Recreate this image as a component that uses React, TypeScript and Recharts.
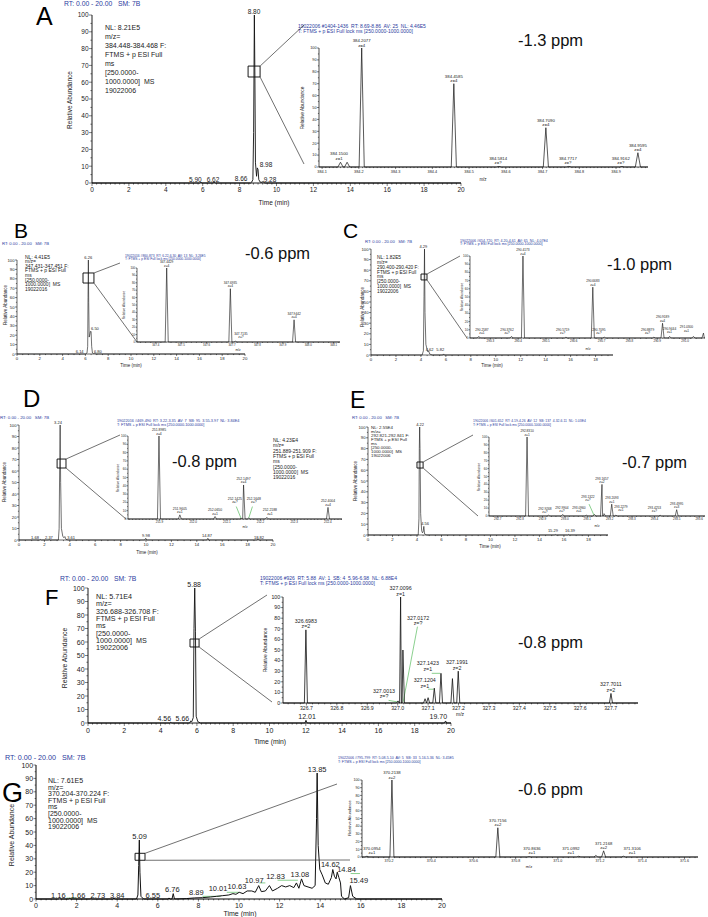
import React from "react";
import { ComposedChart, Line, XAxis, YAxis, ReferenceArea, ReferenceLine } from "recharts";

const FONT = '"Liberation Sans", Arial, Helvetica, sans-serif';
const BLUE = "#2b3b9e";
const GREEN = "#3cb043";
const INK = "#222";

// ---------------- tick labels ----------------
const Y_TICKS = [0, 10, 20, 30, 40, 50, 60, 70, 80, 90, 100];
const T_TICKS_20 = [0, 2, 4, 6, 8, 10, 12, 14, 16, 18, 20];
const T_TICKS_18 = [0, 2, 4, 6, 8, 10, 12, 14, 16, 18];
const MZ_TICKS_A = [384.1, 384.2, 384.3, 384.4, 384.5, 384.6, 384.7, 384.8, 384.9];
const MZ_TICKS_B = [347.4, 347.5, 347.6, 347.7, 347.8, 347.9, 348.0, 348.1];
const MZ_TICKS_C = [290.3, 290.4, 290.5, 290.6, 290.7, 290.8, 290.9, 291.0];
const MZ_TICKS_D = [251.9, 252.0, 252.1, 252.2, 252.3, 252.4];
const MZ_TICKS_E = [292.7, 292.8, 292.9, 293.0, 293.1, 293.2, 293.3, 293.4, 293.5, 293.6];
const MZ_TICKS_F = [326.7, 326.8, 326.9, 327.0, 327.1, 327.2, 327.3, 327.4, 327.5, 327.6, 327.7];
const MZ_TICKS_G = [370.2, 370.4, 370.6, 370.8, 371.0, 371.2, 371.4, 371.6];

// ---------------- chromatograms [time, abundance] ----------------
const CHROM_A: [number, number][] = [[0,0],[5.84,0],[5.9,0.5],[5.96,0],[6.56,0],[6.62,0.4],[6.68,0],[8.6,0],[8.66,0.6],[8.72,2],[8.76,30],[8.8,100],[8.83,62],[8.86,12],[8.92,4],[8.96,9],[9.0,8],[9.04,2],[9.12,0.5],[9.22,0.4],[9.28,1],[9.34,0],[20,0]];
const CHROM_B: [number, number][] = [[0,0],[6.0,0],[6.08,0.5],[6.14,1],[6.2,8],[6.23,60],[6.26,100],[6.29,55],[6.33,18],[6.38,20],[6.44,24],[6.5,24],[6.55,8],[6.62,1],[6.72,0.5],[6.8,1],[6.88,0],[20,0]];
const CHROM_C: [number, number][] = [[0,0],[4.1,0],[4.2,4],[4.25,55],[4.29,100],[4.33,40],[4.4,10],[4.5,5],[4.56,3],[4.62,4],[4.7,1],[4.9,0],[5.76,0],[5.82,1],[5.88,0],[19.4,0]];
const CHROM_D: [number, number][] = [[0,0],[1.6,0],[1.68,0.5],[1.76,0],[2.3,0],[2.37,0.5],[2.44,0],[3.1,0],[3.16,10],[3.2,60],[3.24,100],[3.28,50],[3.34,10],[3.45,3],[3.55,2],[3.61,3],[3.7,0.5],[3.9,0],[9.9,0],[9.98,1.5],[10.06,0],[14.8,0],[14.87,1.5],[14.94,0],[18.75,0],[18.82,1],[18.9,0],[20,0]];
const CHROM_E: [number, number][] = [[0,0],[4.1,0],[4.16,15],[4.19,80],[4.22,100],[4.25,80],[4.3,20],[4.38,4],[4.45,2],[4.5,3],[4.56,8],[4.62,1],[4.8,0],[15.22,0],[15.29,0.5],[15.36,0],[16.32,0],[16.39,0.5],[16.46,0],[19.6,0]];
const CHROM_F: [number, number][] = [[0,0],[4.5,0],[4.56,0.5],[4.62,0],[5.6,0],[5.66,1.5],[5.72,1],[5.8,4],[5.84,70],[5.88,100],[5.92,68],[5.96,5],[6.05,1],[6.2,0],[11.95,0],[12.01,2],[12.07,0],[19.64,0],[19.7,1.5],[19.76,0],[20,0]];
const CHROM_G: [number, number][] = [[0,0],[1.1,0],[1.16,0.8],[1.22,0],[1.6,0],[1.66,0.5],[1.72,0],[2.67,0],[2.73,0.5],[2.79,0],[3.78,0],[3.84,0.5],[3.9,0],[4.95,0],[5.02,3],[5.06,25],[5.09,44],[5.12,20],[5.17,2],[5.3,0],[6.5,0],[6.55,0.8],[6.6,0],[6.7,0],[6.76,4],[6.82,0],[7.4,0.3],[7.8,0.8],[8.2,1],[8.6,1.5],[8.89,2],[9.2,2.5],[9.5,3],[9.7,4],[9.85,3.5],[10.01,5],[10.2,4],[10.4,6],[10.63,6],[10.8,5],[10.97,10],[11.1,5.5],[11.3,6],[11.5,10],[11.65,6],[11.9,8],[12.1,10],[12.3,9],[12.5,10],[12.7,8.5],[12.83,12],[12.95,8],[13.08,15],[13.2,10],[13.4,9],[13.6,8],[13.75,10],[13.82,60],[13.85,94],[13.9,40],[13.98,22],[14.1,18],[14.25,12],[14.4,11],[14.55,16],[14.62,22],[14.7,17],[14.78,15],[14.84,20],[14.92,16],[15.0,12],[15.05,2],[15.2,0],[15.4,1],[15.49,10],[15.6,2],[15.8,0],[20,0]];

// chromatogram peak labels: text, label x (min), label baseline level (%)
type Lab = [string, number, number];
const RT_LABELS_A: Lab[] = [["8.80",8.78,100],["5.90",5.6,0],["6.62",6.56,0],["8.66",8.08,0.5],["8.98",9.43,8.5],["9.28",9.65,0]];
const RT_LABELS_B: Lab[] = [["6.26",6.25,100],["6.50",6.84,24],["6.14",5.5,0],["6.80",7.1,0]];
const RT_LABELS_C: Lab[] = [["4.29",4.2,100],["4.62",4.7,2],["5.82",5.55,2]];
const RT_LABELS_D: Lab[] = [["3.24",3.07,100],["1.68",1.26,0],["2.37",2.36,0],["3.61",4.1,0],["9.98",10.0,1.5],["14.87",14.8,1.5],["18.82",18.9,0]];
const RT_LABELS_E: Lab[] = [["4.22",4.25,100],["4.56",4.66,8],["15.29",15.1,1.5],["16.39",16.5,1.5]];
const RT_LABELS_F: Lab[] = [["5.88",5.85,100],["4.56",4.2,0.5],["5.66",5.2,0.5],["12.01",12.07,2],["19.70",19.3,1.5]];
const RT_LABELS_G: Lab[] = [["1.16",1.1,0],["1.66",2.07,0],["2.73",3.05,0],["3.84",4.0,0],["5.09",5.1,44],["6.55",5.76,0],["6.76",6.72,4],["8.89",7.9,1.5],["10.01",8.97,5],["10.63",9.9,6],["10.97",10.75,11],["12.83",11.8,13.5],["13.08",13.0,15.5],["13.85",13.85,94],["14.62",14.5,23],["14.84",15.3,19],["15.49",15.9,11]];

// ---------------- spectra peaks [m/z, relative abundance] ----------------
const PEAKS_A: [number, number][] = [[384.150,4],[384.168,4],[384.2077,100],[384.4585,70],[384.5814,0.5],[384.7090,33],[384.7717,0.5],[384.9162,0.5],[384.9595,12]];
const PEAKS_B: [number, number][] = [[347.4429,100],[347.6935,72],[347.7135,1],[347.9442,30]];
const PEAKS_C: [number, number][] = [[290.2587,2],[290.3762,2],[290.4173,100],[290.5719,1],[290.6683,62],[290.7095,1],[290.8879,1],[290.9189,18],[290.9444,2],[291.0300,2],[291.066,6]];
const PEAKS_D: [number, number][] = [[251.8985,100],[251.9605,5],[252.0650,3],[252.1425,1],[252.1497,41],[252.1648,1],[252.2188,2],[252.4004,14]];
const PEAKS_E: [number, number][] = [[292.8310,100],[292.9268,1],[292.9904,2],[293.0960,1],[293.1322,2],[293.1657,40],[293.175,3],[293.2093,15],[293.2279,1],[293.4253,1],[293.4995,8]];
const PEAKS_F: [number, number][] = [[326.6983,69],[327.0013,2],[327.0096,100],[327.0172,50],[327.09,4],[327.10,5],[327.1204,14],[327.1423,28],[327.18,23],[327.1991,30],[327.7011,9]];
const PEAKS_G: [number, number][] = [[370.0954,1],[370.2138,100],[370.7156,38],[370.8636,0.5],[371.0992,1],[371.18,2],[371.2168,8],[371.3106,1]];

// spectrum labels: m/z text, charge text, label x (m/z), label baseline level (%)
type SLab = [string, string, number, number];
const MZ_LABELS_A: SLab[] = [["384.1500","z=1",384.146,5],["384.2077","z=4",384.2077,100],["384.4585","z=4",384.4585,70],["384.5814","z=?",384.579,1],["384.7090","z=4",384.709,33],["384.7717","z=?",384.769,1],["384.9162","z=?",384.913,1],["384.9595","z=4",384.9595,12]];
const MZ_LABELS_B: SLab[] = [["347.4429","z=4",347.4429,100],["347.6935","z=4",347.6935,72],["347.7135","z=?",347.735,3],["347.9442","z=4",347.9442,30]];
const MZ_LABELS_C: SLab[] = [["290.2587","z=1",290.27,3],["290.3762","z=?",290.36,3],["290.4173","z=4",290.4173,100],["290.5719","z=?",290.56,3],["290.6683","z=4",290.6683,62],["290.7095","z=?",290.69,3],["290.8879","z=?",290.865,3],["290.9189","z=4",290.9189,18],["290.9444","z=1",290.944,4],["291.0300","z=1",291.005,6]];
const MZ_LABELS_D: SLab[] = [["251.8985","z=4",251.8985,100],["251.9605","z=1",251.9605,5],["252.0650","z=1",252.065,3],["252.1425","z=?",252.124,17],["252.1497","z=4",252.1497,41],["252.1648","z=?",252.18,17],["252.2188","z=1",252.228,3],["252.4004","z=4",252.4004,14]];
const MZ_LABELS_E: SLab[] = [["292.8310","z=1",292.831,100],["292.9268","z=?",292.911,2],["292.9904","z=?",292.987,3],["293.0960","z=1",293.063,3],["293.1322","z=?",293.103,17],["293.1657","z=2",293.1657,40],["293.2093","z=1",293.21,15],["293.2279","z=1",293.25,4],["293.4253","z=?",293.40,3],["293.4995","z=3",293.4995,8]];
const MZ_LABELS_F: SLab[] = [["326.6983","z=2",326.6983,69],["327.0013","z=?",326.955,3],["327.0096","z=1",327.0096,100],["327.0172","z=?",327.067,72],["327.1204","z=1",327.089,13],["327.1423","z=1",327.099,29],["327.1991","z=2",327.195,30],["327.7011","z=2",327.7011,9]];
const MZ_LABELS_G: SLab[] = [["370.0954","z=1",370.119,2],["370.2138","z=2",370.2138,100],["370.7156","z=2",370.7156,38],["370.8636","z=1",370.877,2],["371.0992","z=1",371.062,2],["371.2168","z=2",371.2168,8],["371.3106","z=1",371.352,2]];

// green leader lines [x1, v1, x2, v2]
type Lead = [number, number, number, number];
const LEADS_D: Lead[] = [[252.128,15,252.142,1],[252.176,15,252.165,1]];
const LEADS_E: Lead[] = [[293.108,15,293.13,1]];
const LEADS_F: Lead[] = [[326.97,2.5,327.0,1],[327.065,72,327.018,1],[327.1,13,327.118,13],[327.112,28,327.14,28]];
const LEADS_G: Lead[] = [[1.5,0.7,2.0,0.7],[8.2,2,9.1,2],[9.4,5,10.0,5],[11.0,12,11.3,12],[11.9,14,12.9,14],[15.5,19,15.96,19]];

// zoom boxes in main chromatograms [t1, t2, v1, v2]
const BOX_A = [8.46, 9.11, 63.1, 69.6];
const BOX_B = [5.79, 6.75, 75.5, 86.2];
const BOX_C = [4.01, 4.49, 70.8, 76.4];
const BOX_D = [3.0, 3.7, 62.6, 70.4];
const BOX_E = [4.0, 4.5, 62, 67.6];
const BOX_F = [5.62, 6.12, 56.3, 62.2];
const BOX_G = [4.88, 5.37, 28.9, 34.1];

// text
const INFO_A = ["NL: 8.21E5","m/z=","384.448-384.468 F:","FTMS + p ESI Full","ms","[250.0000-","1000.0000]  MS","19022006"];
const INFO_B = ["NL: 4.41E5","m/z=","347.431-347.451 F:","FTMS + p ESI Full","ms","[250.0000-","1000.0000]  MS","19022016"];
const INFO_C = ["NL: 1.82E5","m/z=","290.400-290.420 F:","FTMS + p ESI Full","ms","[250.0000-","1000.0000]  MS","19022006"];
const INFO_D = ["NL: 4.23E4","m/z=","251.889-251.909 F:","FTMS + p ESI Full","ms","[250.0000-","1000.0000]  MS","19022016"];
const INFO_E = ["NL: 2.55E4","m/z=","292.821-292.841 F:","FTMS + p ESI Full","ms","[250.0000-","1000.0000]  MS","19022006"];
const INFO_F = ["NL: 5.71E4","m/z=","326.688-326.708 F:","FTMS + p ESI Full","ms","[250.0000-","1000.0000]  MS","19022006"];
const INFO_G = ["NL: 7.61E5","m/z=","370.204-370.224 F:","FTMS + p ESI Full","ms","[250.0000-","1000.0000]  MS","19022006"];
const HEAD_A = "19022006 #1404-1436  RT: 8.69-8.86  AV: 25  NL: 4.46E5";
const HEAD_B = "19022016 #860-873  RT: 6.22-6.30  AV: 13  NL: 3.26E5";
const HEAD_C = "19022006 #654-720  RT: 4.20-4.61  AV: 65  NL: 4.07E4";
const HEAD_D = "19022016 #469-490  RT: 3.22-3.35  AV: 7  SB: 95  3.55-3.97  NL: 3.84E4";
const HEAD_E = "19022006 #601-652  RT: 4.19-4.26  AV: 12  SB: 137  4.32-6.11  NL: 1.03E4";
const HEAD_F = "19022006 #926  RT: 5.88  AV: 1  SB: 4  5.96-6.98  NL: 6.88E4";
const HEAD_G = "19022006 #795-799  RT: 5.08-5.10  AV: 5  SB: 33  5.16-5.36  NL: 3.45E5";
const SCAN = "T: FTMS + p ESI Full lock ms [250.0000-1000.0000]";
const RT_LINE = "RT: 0.00 - 20.00   SM: 7B";
const PPM = ["-1.3 ppm", "-0.6 ppm", "-1.0 ppm", "-0.8 ppm", "-0.7 ppm", "-0.8 ppm", "-0.6 ppm"];

// ---------------- layout ----------------
type Cfg = { l: number; t: number; r: number; b: number; xd: [number, number]; xMajor: number[]; xDec: number; xMinor: number; yMinor: number; fs: number; tl: number; lfs: number; sw: number; w?: number };

const mainA: Cfg = { l: 92, t: 15, r: 461, b: 183, xd: [0, 20], xMajor: T_TICKS_20, xDec: 0, xMinor: 0.25, yMinor: 5, fs: 6.5, tl: 3, lfs: 6.5, sw: 0.9 };
const insA: Cfg = { l: 319, t: 48, r: 648, b: 167, xd: [384.0915, 384.987], xMajor: MZ_TICKS_A, xDec: 1, xMinor: 0.01, yMinor: 5, fs: 3.8, tl: 2, lfs: 4.3, sw: 0.7, w: 0.007 };
const mainB: Cfg = { l: 17, t: 260, r: 245, b: 354, xd: [0, 20], xMajor: T_TICKS_20, xDec: 0, xMinor: 0.5, yMinor: 5, fs: 4.3, tl: 2, lfs: 4, sw: 0.6 };
const insB: Cfg = { l: 137, t: 268, r: 340, b: 342, xd: [347.326, 348.125], xMajor: MZ_TICKS_B, xDec: 1, xMinor: 0.02, yMinor: 5, fs: 2.8, tl: 1.5, lfs: 3.2, sw: 0.6, w: 0.006 };
const mainC: Cfg = { l: 371, t: 249, r: 613, b: 355, xd: [0, 19.4], xMajor: T_TICKS_18, xDec: 0, xMinor: 0.5, yMinor: 5, fs: 4.3, tl: 2, lfs: 4, sw: 0.6 };
const insC: Cfg = { l: 470, t: 256, r: 705, b: 338, xd: [290.227, 291.069], xMajor: MZ_TICKS_C, xDec: 1, xMinor: 0.02, yMinor: 5, fs: 3, tl: 1.5, lfs: 3.2, sw: 0.6, w: 0.0055 };
const mainD: Cfg = { l: 19, t: 425, r: 273, b: 540, xd: [0, 20], xMajor: T_TICKS_20, xDec: 0, xMinor: 0.5, yMinor: 5, fs: 4.3, tl: 2, lfs: 4, sw: 0.6 };
const insD: Cfg = { l: 128, t: 436, r: 342, b: 519, xd: [251.8065, 252.442], xMajor: MZ_TICKS_D, xDec: 1, xMinor: 0.01, yMinor: 5, fs: 3, tl: 1.5, lfs: 3.4, sw: 0.6, w: 0.0045 };
const mainE: Cfg = { l: 368, t: 427, r: 608, b: 535, xd: [0, 19.6], xMajor: T_TICKS_18, xDec: 0, xMinor: 0.5, yMinor: 5, fs: 4.3, tl: 2, lfs: 4, sw: 0.6 };
const insE: Cfg = { l: 489, t: 437, r: 705, b: 516, xd: [292.661, 293.626], xMajor: MZ_TICKS_E, xDec: 1, xMinor: 0.02, yMinor: 5, fs: 3, tl: 1.5, lfs: 3.2, sw: 0.6, w: 0.0065 };
const mainF: Cfg = { l: 88, t: 588, r: 451, b: 723, xd: [0, 20], xMajor: T_TICKS_20, xDec: 0, xMinor: 0.25, yMinor: 5, fs: 7, tl: 3, lfs: 7, sw: 0.9 };
const insF: Cfg = { l: 283, t: 597, r: 638, b: 703, xd: [326.623, 327.79], xMajor: MZ_TICKS_F, xDec: 1, xMinor: 0.02, yMinor: 5, fs: 5.2, tl: 2.5, lfs: 5.3, sw: 0.8, w: 0.005 };
const mainG: Cfg = { l: 36, t: 765, r: 442, b: 899, xd: [0, 20], xMajor: T_TICKS_20, xDec: 0, xMinor: 0.25, yMinor: 5, fs: 7, tl: 2.5, lfs: 7.5, sw: 1 };
const insG: Cfg = { l: 362, t: 780, r: 698, b: 857, xd: [370.072, 371.664], xMajor: MZ_TICKS_G, xDec: 1, xMinor: 0.025, yMinor: 5, fs: 3.6, tl: 2, lfs: 4.2, sw: 0.7, w: 0.0095 };

// ---------------- helpers ----------------
function withMinor(major: number[], d: [number, number], step: number): number[] {
  const s = new Set<number>(major.map((v) => +v.toFixed(4)));
  if (step > 0) {
    const i0 = Math.ceil(d[0] / step - 1e-9);
    const i1 = Math.floor(d[1] / step + 1e-9);
    for (let i = i0; i <= i1; i++) s.add(+(i * step).toFixed(4));
  }
  return Array.from(s).filter((v) => v >= d[0] - 1e-9 && v <= d[1] + 1e-9).sort((a, b) => a - b);
}

const isMajor = (arr: number[], v: number) => arr.some((m) => Math.abs(m - v) < 1e-6);

function xTick(c: Cfg) {
  return (p: any) => {
    const v = p.payload ? p.payload.value : 0;
    const major = isMajor(c.xMajor, v);
    const len = major ? c.tl : c.tl * 0.55;
    return (
      <g>
        <line x1={p.x} y1={p.y} x2={p.x} y2={p.y + len} stroke="#000" strokeWidth={0.5} />
        {major ? (
          <text x={p.x} y={p.y + len + c.fs * 0.95} textAnchor="middle" fontSize={c.fs} fill={INK} fontFamily={FONT}>
            {v.toFixed(c.xDec)}
          </text>
        ) : null}
      </g>
    );
  };
}

function yTick(c: Cfg) {
  return (p: any) => {
    const v = p.payload ? p.payload.value : 0;
    const major = isMajor(Y_TICKS, v);
    const len = major ? c.tl : c.tl * 0.55;
    return (
      <g>
        <line x1={p.x - len} y1={p.y} x2={p.x} y2={p.y} stroke="#000" strokeWidth={0.5} />
        {major ? (
          <text x={p.x - len - 0.4} y={p.y + c.fs * 0.36} textAnchor="end" fontSize={c.fs} fill={INK} fontFamily={FONT}>
            {v}
          </text>
        ) : null}
      </g>
    );
  };
}

function labelDot(fs: number) {
  return (p: any) => {
    const { cx, cy, payload, index } = p;
    if (cx == null || cy == null || !payload) return <g key={"l" + index} />;
    const gap = 1.5;
    if (payload.t2) {
      return (
        <g key={"l" + index}>
          <text x={cx} y={cy - gap - fs * 1.05} textAnchor="middle" fontSize={fs} fill={INK} fontFamily={FONT}>{payload.t1}</text>
          <text x={cx} y={cy - gap} textAnchor="middle" fontSize={fs} fill={INK} fontFamily={FONT}>{payload.t2}</text>
        </g>
      );
    }
    return (
      <text key={"l" + index} x={cx} y={cy - gap} textAnchor="middle" fontSize={fs} fill={INK} fontFamily={FONT}>{payload.t1}</text>
    );
  };
}

const chromTrace = (a: [number, number][]) => a.map(([x, y]) => ({ x, y }));
function peakTrace(peaks: [number, number][], c: Cfg) {
  const w = c.w || 0.005;
  const pts: { x: number; y: number }[] = [{ x: c.xd[0], y: 0 }, { x: c.xd[1], y: 0 }];
  peaks.forEach(([mz, ab]) => {
    pts.push({ x: mz - w, y: 0 }, { x: mz, y: ab }, { x: mz + w, y: 0 });
  });
  return pts.sort((a, b) => a.x - b.x);
}
const rtLabels = (a: Lab[]) => a.map(([t1, x, y]) => ({ x, y, t1 }));
const mzLabels = (a: SLab[]) => a.map(([t1, t2, x, y]) => ({ x, y, t1, t2 }));

type PlotProps = { c: Cfg; trace: { x: number; y: number }[]; labels: any[]; leads?: Lead[]; box?: number[] };

function Plot({ c, trace, labels, leads = [], box }: PlotProps) {
  const yw = Math.ceil(c.fs * 2.2 + c.tl + 3);
  const xh = Math.ceil(c.fs * 1.8 + c.tl + 2);
  const mt = Math.ceil(c.lfs * 2.4 + 4);
  const mr = 18;
  const W = c.r - c.l + yw + mr;
  const H = c.b - c.t + mt + xh;
  const xt = withMinor(c.xMajor, c.xd, c.xMinor);
  const yt = withMinor(Y_TICKS, [0, 100], c.yMinor);
  return (
    <div style={{ position: "absolute", left: c.l - yw, top: c.t - mt, width: W, height: H }}>
      <ComposedChart width={W} height={H} margin={{ top: mt, right: mr, bottom: 0, left: 0 }}>
        <XAxis dataKey="x" type="number" domain={c.xd} ticks={xt} interval={0} height={xh} tickSize={0} tickMargin={0} tickLine={false} axisLine={{ stroke: "#000", strokeWidth: c.sw }} tick={xTick(c)} />
        <YAxis dataKey="y" type="number" domain={[0, 100]} ticks={yt} interval={0} width={yw} tickSize={0} tickMargin={0} tickLine={false} axisLine={{ stroke: "#000", strokeWidth: c.sw }} tick={yTick(c)} />
        {box ? (
          <ReferenceArea x1={box[0]} x2={box[1]} y1={box[2]} y2={box[3]} stroke="#000" strokeWidth={0.9} fill="none" fillOpacity={0} ifOverflow="visible" />
        ) : null}
        {leads.map((ld, i) => (
          <ReferenceLine key={"ld" + i} segment={[{ x: ld[0], y: ld[1] }, { x: ld[2], y: ld[3] }]} stroke={GREEN} strokeWidth={0.6} ifOverflow="visible" />
        ))}
        <Line data={trace} dataKey="y" type="linear" stroke="#111" strokeWidth={c.sw} dot={false} activeDot={false} isAnimationActive={false} />
        <Line data={labels} dataKey="y" type="linear" stroke="transparent" strokeWidth={0} dot={labelDot(c.lfs)} activeDot={false} isAnimationActive={false} />
      </ComposedChart>
    </div>
  );
}

const px = (c: Cfg, x: number) => c.l + ((x - c.xd[0]) / (c.xd[1] - c.xd[0])) * (c.r - c.l);
const py = (c: Cfg, v: number) => c.b - (v / 100) * (c.b - c.t);

function Txt({ x, y, s, c = INK, a = "start", rot = false, children }: { x: number; y: number; s: number; c?: string; a?: string; rot?: boolean; children: any }) {
  return (
    <text x={x} y={y} fontSize={s} fill={c} textAnchor={a as any} fontFamily={FONT} style={{ whiteSpace: "pre" }} transform={rot ? `rotate(-90 ${x} ${y})` : undefined}>
      {children}
    </text>
  );
}

function Block({ x, y, dy, s, lines }: { x: number; y: number; dy: number; s: number; lines: string[] }) {
  return (
    <g>
      {lines.map((ln, i) => (
        <Txt key={i} x={x} y={y + i * dy} s={s}>{ln}</Txt>
      ))}
    </g>
  );
}

type Deco = {
  letter: [string, number, number, number];
  rt: [number, number, number];
  info: [number, number, number, number];
  infoLines: string[];
  head: [number, number, number, number];
  headText: string;
  ppm: [number, number];
  ppmText: string;
  ra: [number, number, number];
  raIn: [number, number, number];
  time: [number, number, number];
  mz: [number, number, number];
  main: Cfg;
  box: number[];
  top: [number, number];
  bot: [number, number];
};

const DECO: Deco[] = [
  { letter: ["A", 36, 25, 25], rt: [64, 5.8, 6.8], info: [105, 29.5, 9, 7], infoLines: INFO_A, head: [298, 27.8, 6.2, 5], headText: HEAD_A, ppm: [518, 46], ppmText: PPM[0], ra: [72, 100, 6.5], raIn: [303.5, 108, 4.8], time: [274, 205, 6.5], mz: [483, 181, 4.5], main: mainA, box: BOX_A, top: [304, 25], bot: [304, 164] },
  { letter: ["B", 14, 238, 21], rt: [2, 244.5, 4.2], info: [25, 258.5, 4.6, 5], infoLines: INFO_B, head: [125, 257, 4, 3.3], headText: HEAD_B, ppm: [245, 259], ppmText: PPM[1], ra: [6.5, 305, 4.5], raIn: [125, 305, 3.2], time: [131, 367, 4.5], mz: [238, 351, 3.2], main: mainB, box: BOX_B, top: [120, 263], bot: [137, 342] },
  { letter: ["C", 343, 238, 21], rt: [365, 243, 4.2], info: [377, 259, 4.85, 4.8], infoLines: INFO_C, head: [460, 242, 4, 3.6], headText: HEAD_C, ppm: [607, 270], ppmText: PPM[2], ra: [363.5, 307, 4.5], raIn: [463, 297, 3.2], time: [492, 367, 4.5], mz: [588, 350, 3.2], main: mainC, box: BOX_C, top: [460, 256], bot: [467, 338] },
  { letter: ["D", 23, 407, 24], rt: [0, 418.5, 4.4], info: [273, 442, 5.3, 5], infoLines: INFO_D, head: [117, 422, 5, 3.8], headText: HEAD_D, ppm: [172, 467], ppmText: PPM[3], ra: [5.5, 482, 4.5], raIn: [119, 478, 3.2], time: [147, 554, 4.5], mz: [245, 528, 3.2], main: mainD, box: BOX_D, top: [120, 435], bot: [126, 519] },
  { letter: ["E", 350, 408, 23], rt: [352, 418.5, 4.2], info: [371, 429, 4.05, 4.4], infoLines: INFO_E, head: [473, 422, 4.5, 3.4], headText: HEAD_E, ppm: [622, 468], ppmText: PPM[4], ra: [356.5, 481, 4.5], raIn: [480, 477, 3.2], time: [490, 548, 4.5], mz: [597, 527, 3.2], main: mainE, box: BOX_E, top: [473, 435], bot: [478, 516] },
  { letter: ["F", 45, 605, 22], rt: [60, 580.5, 6.8], info: [96, 599, 7.3, 7.2], infoLines: INFO_F, head: [260, 580, 6, 5], headText: HEAD_F, ppm: [518, 648], ppmText: PPM[5], ra: [67.3, 658, 6.8], raIn: [266.7, 650, 5], time: [270, 744, 6.8], mz: [460, 716, 5], main: mainF, box: BOX_F, top: [267, 595], bot: [272, 702] },
  { letter: ["G", 2, 802, 27], rt: [5, 759.5, 7.2], info: [48, 783, 6.6, 7], infoLines: INFO_G, head: [338, 759, 5, 3.6], headText: HEAD_G, ppm: [518, 795], ppmText: PPM[6], ra: [14.4, 835, 7], raIn: [351.3, 818, 4], time: [240, 916, 7], mz: [529, 868, 4], main: mainG, box: BOX_G, top: [337, 784], bot: [350, 860] },
];

function Overlay() {
  return (
    <svg width={708} height={917} style={{ position: "absolute", left: 0, top: 0, pointerEvents: "none" }}>
      {DECO.map((d, i) => {
        const bx = px(d.main, d.box[1]);
        const byTop = py(d.main, d.box[3]);
        const byBot = py(d.main, d.box[2]);
        return (
          <g key={i}>
            <Txt x={d.letter[1]} y={d.letter[2]} s={d.letter[3]} c="#000">{d.letter[0]}</Txt>
            <Txt x={d.rt[0]} y={d.rt[1]} s={d.rt[2]} c={BLUE}>{RT_LINE}</Txt>
            <Block x={d.info[0]} y={d.info[1]} dy={d.info[2]} s={d.info[3]} lines={d.infoLines} />
            <Txt x={d.head[0]} y={d.head[1]} s={d.head[3]} c={BLUE}>{d.headText}</Txt>
            <Txt x={d.head[0]} y={d.head[1] + d.head[2] * 0.85} s={d.head[3]} c={BLUE}>{SCAN}</Txt>
            <Txt x={d.ppm[0]} y={d.ppm[1]} s={16.5} c="#111">{d.ppmText}</Txt>
            <Txt x={d.ra[0]} y={d.ra[1]} s={d.ra[2]} a="middle" rot>Relative Abundance</Txt>
            <Txt x={d.raIn[0]} y={d.raIn[1]} s={d.raIn[2]} a="middle" rot>Relative Abundance</Txt>
            <Txt x={d.time[0]} y={d.time[1]} s={d.time[2]} a="middle">Time (min)</Txt>
            <Txt x={d.mz[0]} y={d.mz[1]} s={d.mz[2]} a="middle">m/z</Txt>
            <line x1={bx} y1={byTop} x2={d.top[0]} y2={d.top[1]} stroke="#333" strokeWidth={0.7} />
            <line x1={bx} y1={byBot} x2={d.bot[0]} y2={d.bot[1]} stroke="#333" strokeWidth={0.7} />
          </g>
        );
      })}
    </svg>
  );
}

export default function App() {
  return (
    <div style={{ position: "absolute", left: 0, top: 0, width: 708, height: 917, background: "#fff", overflow: "hidden", fontFamily: FONT }}>
      <Plot c={mainA} trace={chromTrace(CHROM_A)} labels={rtLabels(RT_LABELS_A)} box={BOX_A} />
      <Plot c={insA} trace={peakTrace(PEAKS_A, insA)} labels={mzLabels(MZ_LABELS_A)} />
      <Plot c={mainB} trace={chromTrace(CHROM_B)} labels={rtLabels(RT_LABELS_B)} box={BOX_B} />
      <Plot c={insB} trace={peakTrace(PEAKS_B, insB)} labels={mzLabels(MZ_LABELS_B)} />
      <Plot c={mainC} trace={chromTrace(CHROM_C)} labels={rtLabels(RT_LABELS_C)} box={BOX_C} />
      <Plot c={insC} trace={peakTrace(PEAKS_C, insC)} labels={mzLabels(MZ_LABELS_C)} />
      <Plot c={mainD} trace={chromTrace(CHROM_D)} labels={rtLabels(RT_LABELS_D)} box={BOX_D} />
      <Plot c={insD} trace={peakTrace(PEAKS_D, insD)} labels={mzLabels(MZ_LABELS_D)} leads={LEADS_D} />
      <Plot c={mainE} trace={chromTrace(CHROM_E)} labels={rtLabels(RT_LABELS_E)} box={BOX_E} />
      <Plot c={insE} trace={peakTrace(PEAKS_E, insE)} labels={mzLabels(MZ_LABELS_E)} leads={LEADS_E} />
      <Plot c={mainF} trace={chromTrace(CHROM_F)} labels={rtLabels(RT_LABELS_F)} box={BOX_F} />
      <Plot c={insF} trace={peakTrace(PEAKS_F, insF)} labels={mzLabels(MZ_LABELS_F)} leads={LEADS_F} />
      <Plot c={mainG} trace={chromTrace(CHROM_G)} labels={rtLabels(RT_LABELS_G)} box={BOX_G} leads={LEADS_G} />
      <Plot c={insG} trace={peakTrace(PEAKS_G, insG)} labels={mzLabels(MZ_LABELS_G)} />
      <Overlay />
    </div>
  );
}
